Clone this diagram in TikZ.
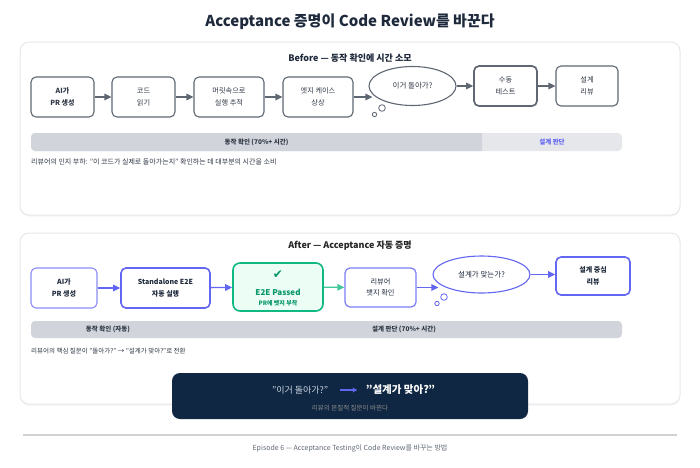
\documentclass[tikz,border=0pt]{standalone}
\usepackage{fontspec}
\setmainfont{Noto Sans CJK KR}
\newfontfamily\symfont{DejaVu Sans}
\usepackage{tikz}
\usetikzlibrary{shapes.geometric, arrows.meta, positioning, calc}
\definecolor{titleink}{HTML}{1E293B}
\definecolor{ink}{HTML}{2F3744}
\definecolor{boxgray}{HTML}{5F6773}
\definecolor{panelline}{HTML}{E5E7EB}
\definecolor{bardark}{HTML}{D1D5DB}
\definecolor{barlight}{HTML}{E5E7EB}
\definecolor{indigo}{HTML}{6366F1}
\definecolor{indigolight}{HTML}{8B8DF6}
\definecolor{passgreen}{HTML}{10B981}
\definecolor{passfill}{HTML}{ECFDF5}
\definecolor{passtext}{HTML}{059669}
\definecolor{navybox}{HTML}{0F2742}
\definecolor{quotegray}{HTML}{CBD5E1}
\tikzstyle{panel} = [draw=panelline, line width=1pt, fill=white, rounded corners=9pt]
\tikzstyle{box} = [rectangle, rounded corners=5pt, draw=boxgray, line width=1.1pt, fill=white,
 align=center, text=ink, inner sep=0pt, font=\fontsize{7.2}{11.5}\selectfont]
\tikzstyle{thought} = [ellipse, draw=boxgray, line width=1.1pt, fill=white, inner sep=0pt,
 text=ink, font=\fontsize{7.5}{10}\selectfont]
\tikzstyle{newbox} = [box, draw=indigolight, text=titleink]
\tikzstyle{arrow} = [line width=1.3pt, draw=boxgray, -{Triangle[length=7pt,width=6.5pt]}]
\tikzstyle{newarrow} = [arrow, draw=indigo]
\tikzstyle{bartext} = [text=ink, font=\fontsize{6.5}{8}\selectfont\bfseries]
\tikzstyle{note} = [anchor=west, text=ink, inner sep=0pt, font=\fontsize{7}{9}\selectfont]
\tikzstyle{heading} = [text=titleink, font=\fontsize{9}{11}\selectfont\bfseries]

\begin{document}
\begin{tikzpicture}[x=1pt, y=-1pt]
	\useasboundingbox (0,0) rectangle (700,467); % Rahmen
	\node[text=titleink, font=\fontsize{15}{18}\selectfont\bfseries] (title) at (350,22) {Acceptance 증명이 Code Review를 바꾼다}; % Titel

	% Before
	\fill[black!4, rounded corners=9pt] (20,43.5) rectangle (680,216.5); % Schatten
	\draw[panel] (20,42) rectangle (680,215); % Panel oben
	\node[heading] (beforehead) at (350,58) {Before — 동작 확인에 시간 소모};
	\node[box, minimum width=63pt, minimum height=40pt, font=\fontsize{7}{11.5}\selectfont\bfseries] (aipr) at (62.5,97) {AI가\\PR 생성};
	\node[box, minimum width=63pt, minimum height=40pt] (read) at (143.5,97) {코드\\읽기};
	\node[box, minimum width=70pt, minimum height=40pt] (trace) at (229,97) {머릿속으로\\실행 추적};
	\node[box, minimum width=70pt, minimum height=40pt] (edge) at (318,97) {엣지 케이스\\상상};
	\node[thought, minimum width=87pt, minimum height=39pt] (doubt) at (412.5,86) {이거 돌아가?};
	\node[box, minimum width=63pt, minimum height=40pt, line width=1.7pt] (manual) at (505.5,86) {수동\\테스트};
	\node[box, minimum width=62pt, minimum height=40pt] (design) at (587,86) {설계\\리뷰};
	\draw[boxgray, line width=0.8pt] (382,108) circle[radius=3.3pt] (374.5,114.5) circle[radius=2.2pt]; % Denkblasen
	\draw[arrow] (aipr) -- (read);
	\draw[arrow] (read) -- (trace);
	\draw[arrow] (trace) -- (edge);
	\draw[arrow] (edge.east) -- ($(edge.east -| doubt.west)+(4,0)$);
	\draw[arrow] (doubt) -- (manual);
	\draw[arrow] (manual) -- (design);
	\fill[barlight, rounded corners=4pt] (31,133) rectangle (622,151); % Balken hell
	\fill[bardark] (482,133) [rounded corners=4pt] -- (31,133) -- (31,151) [sharp corners] -- (482,151) -- cycle; % Balken dunkel
	\node[bartext] (checkshare) at (256.5,142) {동작 확인 (70\%+ 시간)};
	\node[bartext, text=indigo] (designshare) at (552,142) {설계 판단};
	\node[note] (beforenote) at (31,162) {리뷰어의 인지 부하: "이 코드가 실제로 돌아가는지" 확인하는 데 대부분의 시간을 소비};

	% After
	\fill[black!4, rounded corners=9pt] (20,234.5) rectangle (680,405.5); % Schatten
	\draw[panel] (20,233) rectangle (680,404); % Panel unten
	\node[heading, text=black!85] (afterhead) at (350,246) {After — Acceptance 자동 증명};
	\node[newbox, minimum width=66pt, minimum height=40pt, font=\fontsize{7}{11.5}\selectfont\bfseries] (aipr2) at (64,288) {AI가\\PR 생성};
	\node[newbox, minimum width=89pt, minimum height=40pt, draw=indigo, line width=1.6pt, font=\fontsize{7}{11.5}\selectfont\bfseries] (e2e) at (165.5,288) {Standalone E2E\\자동 실행};
	\node[box, minimum width=90pt, minimum height=48pt, draw=passgreen, fill=passfill, line width=1.6pt, rounded corners=7pt] (passed) at (278,287) {};
	\node[text=passtext, font=\symfont\fontsize{12}{12}\selectfont] (tick) at (278,275) {✔};
	\node[text=passtext, font=\fontsize{8}{10}\selectfont\bfseries] (passtitle) at (278,292) {E2E Passed};
	\node[text=passtext, font=\fontsize{6}{8}\selectfont\bfseries] (badge) at (278,303) {PR에 뱃지 부착};
	\node[newbox, minimum width=71pt, minimum height=39pt, draw=indigo!85, line width=1.2pt] (reviewer) at (380.5,287.5) {리뷰어\\뱃지 확인};
	\node[thought, draw=indigo, minimum width=97pt, minimum height=37pt, text=titleink] (fit) at (481.5,274.5) {설계가 맞는가?};
	\node[newbox, minimum width=74pt, minimum height=38pt, draw=indigo, line width=1.6pt, font=\fontsize{7}{11.5}\selectfont\bfseries] (designfocus) at (593,276) {설계 중심\\리뷰};
	\draw[indigo, line width=0.8pt] (444,297) circle[radius=3.3pt] (437,303.5) circle[radius=2.2pt]; % Denkblasen
	\draw[newarrow] (aipr2) -- (e2e);
	\draw[newarrow] (e2e) -- (passed);
	\draw[arrow, draw=passgreen!80] (passed) -- (reviewer);
	\draw[newarrow] (reviewer.east) -- ($(reviewer.east -| fit.west)+(6,0)$);
	\draw[newarrow] (fit.east) -- (fit.east -| designfocus.west);
	\fill[bardark, rounded corners=4pt] (31,321) rectangle (622,338); % Balken
	\node[bartext] (autocheck) at (108,329.5) {동작 확인 (자동)};
	\node[bartext] (designshare2) at (404,329.5) {설계 판단 (70\%+ 시간)};
	\node[note, font=\fontsize{6.5}{8}\selectfont] (afternote) at (31,351) {리뷰어의 핵심 질문이 "돌아가?" → "설계가 맞아?"로 전환};

	% Fazit
	\fill[navybox, rounded corners=8pt] (172,373) rectangle (528,419); % Kasten dunkel
	\node[text=quotegray, font=\fontsize{9}{11}\selectfont] (oldq) at (300,390) {"이거 돌아가?"};
	\node[text=white, font=\fontsize{10.5}{12}\selectfont\bfseries] (newq) at (400.5,390) {"설계가 맞아?"};
	\draw[indigo, line width=1.3pt, -{Stealth[length=5pt,width=5pt]}, shorten <=8pt, shorten >=5pt] (oldq) -- (newq);
	\node[text=black!45, font=\fontsize{6.5}{8}\selectfont] (essence) at (350,408) {리뷰의 본질적 질문이 바뀐다};

	% Fusszeile
	\coordinate (footl) at (23,435);
	\coordinate (footr) at (677,435);
	\draw[black!18, line width=1.2pt] (footl) -- (footr);
	\node[text=boxgray, font=\fontsize{7}{9}\selectfont] (footer) at (350,448) {Episode 6 — Acceptance Testing이 Code Review를 바꾸는 방법};
\end{tikzpicture}
\end{document}
